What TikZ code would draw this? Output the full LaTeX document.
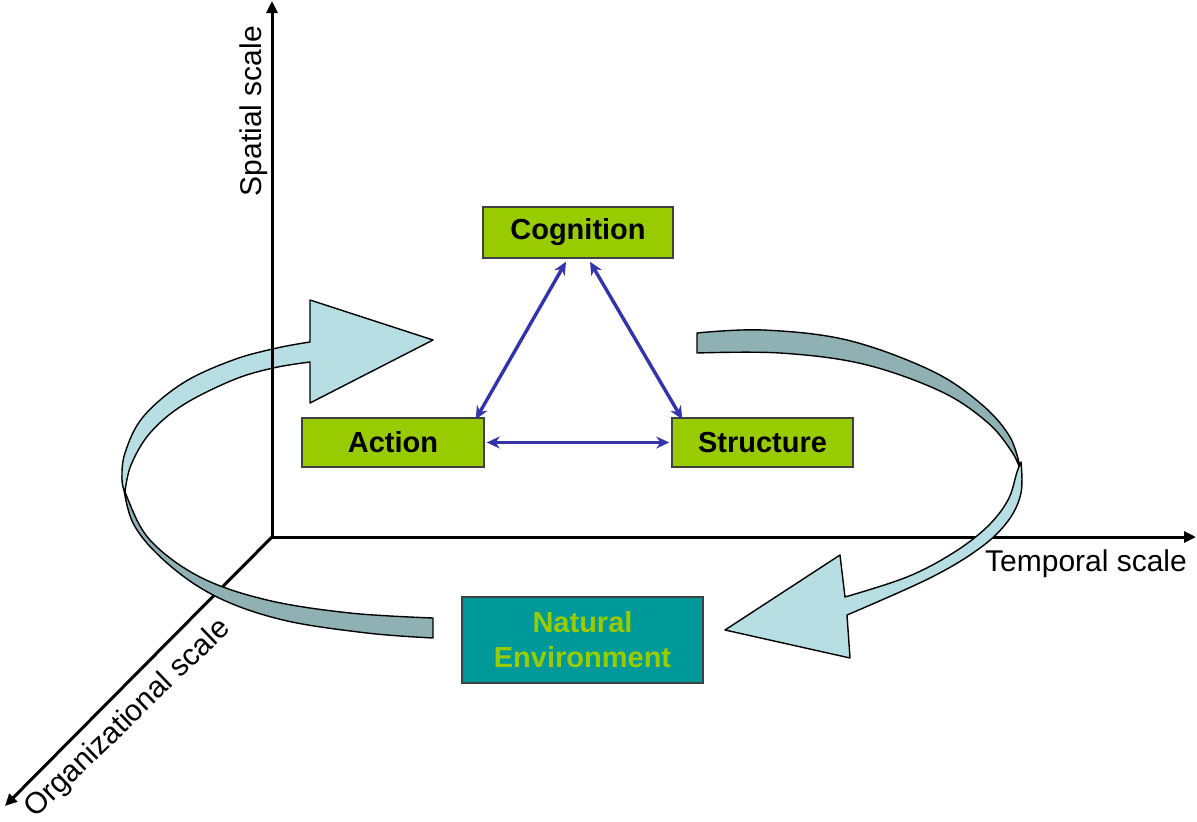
\documentclass[tikz,border=0pt]{standalone}
\usepackage{fontspec}
\setmainfont{Liberation Sans}
\usetikzlibrary{arrows.meta}
\definecolor{boxgreen}{RGB}{153,204,0}
\definecolor{boxteal}{RGB}{0,153,153}
\definecolor{ribbonlight}{RGB}{183,223,227}
\definecolor{ribbondark}{RGB}{143,177,179}
\definecolor{linkblue}{RGB}{51,51,170}
\begin{document}
\begin{tikzpicture}[x=1pt,y=-1pt,
  axis/.style={line width=3pt, black, -{Triangle[length=12pt,width=11pt]}},
  axislabel/.style={font=\fontsize{30}{33}\selectfont, inner sep=0pt},
  greenbox/.style={draw=black!75, line width=1.5pt, fill=boxgreen, inner sep=0pt,
    font=\bfseries\fontsize{29}{32}\selectfont, text=black},
  tealbox/.style={draw=black!75, line width=1.5pt, fill=boxteal, inner sep=0pt,
    font=\bfseries\fontsize{29}{35}\selectfont, text=boxgreen, align=center},
  link/.style={draw=linkblue, line width=3.4pt, {Stealth[length=13pt,width=12pt]}-{Stealth[length=13pt,width=12pt]}},
  ribbon/.style={draw=black, line width=1.4pt, line join=round}]
\useasboundingbox (0,0) rectangle (1197,822);

% axes coordinates
\coordinate (O) at (272,537);
\coordinate (Otop) at (272,1);
\coordinate (Oright) at (1196,537);
\coordinate (Odiag) at (5,806);

% axes below ribbons
\draw[axis] (O) -- (Oright);
\draw[axis] (O) -- (Odiag);

% left ribbon: dark back part
\filldraw[ribbon, fill=ribbondark]
  plot[smooth, tension=0.6] coordinates {(122,476) (133,523) (167,563) (217,597) (283,620) (367,633) (433,638)}
  -- (433,618)
  -- plot[smooth, tension=0.6] coordinates {(433,618) (350,613) (267,600) (200,577) (150,540) (127,497) (122,476)}
  -- cycle;
% left ribbon: light front part with head
\filldraw[ribbon, fill=ribbonlight]
  (310,342) -- (310,300) -- (433,340) -- (310,403) -- (310,362)
  -- plot[smooth, tension=0.6] coordinates {(310,362) (273,368) (233,380) (183,405) (150,433) (131,465) (125,492)}
  -- plot[smooth, tension=0.6] coordinates {(125,492) (122,480) (125,453) (143,417) (183,383) (233,360) (277,348) (310,342)}
  -- cycle;

% right ribbon: dark back part
\filldraw[ribbon, fill=ribbondark]
  plot[smooth, tension=0.6] coordinates {(697,333) (763,330) (847,340) (930,370) (980,403) (1010,437) (1021,472)}
  -- plot[smooth, tension=0.6] coordinates {(1021,472) (1012,452) (987,422) (940,391) (863,364) (780,353) (697,353)}
  -- cycle;
% right ribbon: light front part with head
\filldraw[ribbon, fill=ribbonlight]
  plot[smooth, tension=0.6] coordinates {(1021,462) (1021,493) (1008,521) (980,548) (930,578) (847,615)}
  -- (850,658) -- (725,630) -- (840,555) -- (845,597)
  -- plot[smooth, tension=0.6] coordinates {(845,597) (907,577) (953,553) (987,527) (1008,500) (1017,472) (1021,462)}
  -- cycle;

% vertical axis drawn over the left ribbon
\draw[axis] (O) -- (Otop);

% axis labels
\node[axislabel, rotate=90] (spatial) at (254,111) {Spatial scale};
\node[axislabel] (temporal) at (1086,564) {Temporal scale};
\node[axislabel, rotate=44] (organ) at (128,719) {Organizational scale};

% boxes
\node[greenbox, minimum width=190pt, minimum height=51pt] (cog) at (578,232.5) {Cognition};
\node[greenbox, minimum width=182pt, minimum height=49pt] (act) at (393,442.5) {Action};
\node[greenbox, minimum width=181pt, minimum height=49pt] (str) at (762.5,442.5) {Structure};
\node[tealbox, minimum width=241pt, minimum height=86pt] (nat) at (582.5,640) {Natural\\Environment};

% links
\draw[link] ([xshift=-12pt,yshift=-3pt]cog.south) -- ([xshift=-9pt,yshift=-2pt]act.north east);
\draw[link] ([xshift=12pt,yshift=-3pt]cog.south) -- ([xshift=11pt,yshift=-2pt]str.north west);
\draw[link] ([xshift=2pt]act.east) -- ([xshift=-2pt]str.west);
\end{tikzpicture}
\end{document}
